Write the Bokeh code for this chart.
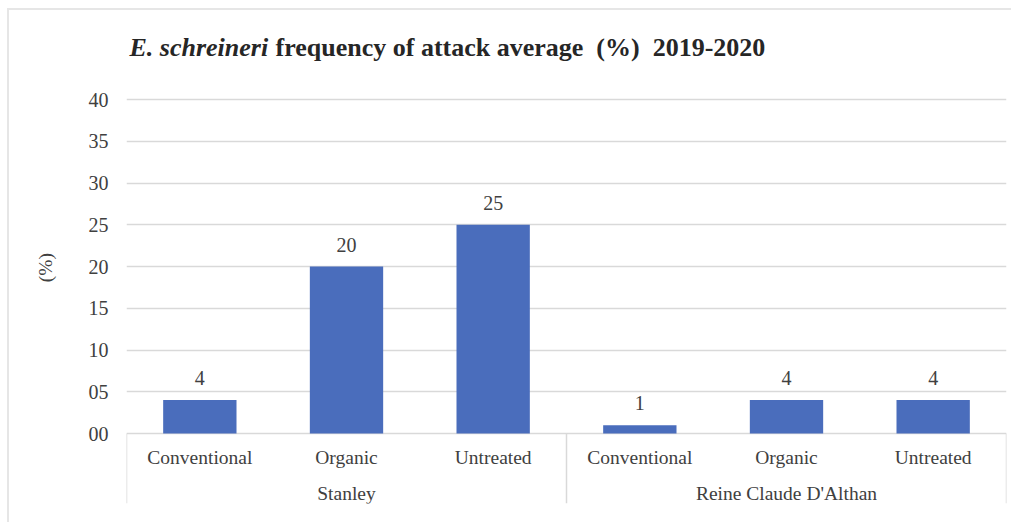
from bokeh.plotting import figure
from bokeh.models import FactorRange, FixedTicker, ColumnDataSource
from bokeh.core.properties import value
from bokeh.embed import file_html
from bokeh.resources import INLINE

# ---- data ----
varieties = ["Stanley", "Reine Claude D'Althan"]
treatments = ["Conventional", "Organic", "Untreated"]
stanley_values = [4, 20, 25]
reine_values = [1, 4, 4]
y_ticks = [0, 5, 10, 15, 20, 25, 30, 35, 40]
y_tick_labels = ["00", "05", "10", "15", "20", "25", "30", "35", "40"]
title_italic = "E. schreineri"
title_rest = "frequency of attack average \u00a0(%) \u00a02019-2020"

factors = [(v, t) for v in varieties for t in treatments]
values = stanley_values + reine_values

SERIF = "Liberation Serif"
TXT = "#404040"
GRID = "#d9d9d9"

OX, OY = 9, 10  # offset of the chart box inside the window (border)
px_per_unit = 334 / 40.0
slot_px = 880 / 6.0
y_bottom = -70 / px_per_unit
y_top = 40 + 68 / px_per_unit

p = figure(
    width=1013 - OX, height=524 - OY,
    x_range=FactorRange(*factors, factor_padding=0, group_padding=0, range_padding=0),
    y_range=(y_bottom, y_top),
    output_backend="svg", toolbar_location=None,
    min_border_left=126 - OX, min_border_right=7, min_border_top=31 - OY, min_border_bottom=21,
)
p.styles = {"margin-left": "7px", "margin-top": "8px",
            "border-left": "2px solid #e6e6e6", "border-top": "2px solid #e6e6e6"}
p.outline_line_color = None
p.background_fill_color = "white"
p.border_fill_color = "white"

src = ColumnDataSource(dict(x=factors, top=values, label=[str(v) for v in values]))
p.vbar(x="x", top="top", bottom=0, width=0.5, source=src,
       fill_color="#4a6dbc", line_color=None)
p.text(x="x", y="top", text="label", source=src, text_align="center",
       text_baseline="bottom", y_offset=-15, text_font=value(SERIF),
       text_font_size="20px", text_color=TXT)

# category labels (inner level)
p.text(x=factors, y=[-24 / px_per_unit] * len(factors), text=[f[1] for f in factors],
       text_align="center", text_baseline="middle", text_font=value(SERIF),
       text_font_size="19.5px", text_color=TXT)
# group labels (outer level)
p.text(x=varieties, y=[-60 / px_per_unit] * len(varieties), text=varieties,
       text_align="center", text_baseline="middle", text_font=value(SERIF),
       text_font_size="19.5px", text_color=TXT)

# separators between groups below the axis
sep_x = [(varieties[0], treatments[0], -0.5), (varieties[0], treatments[-1], 0.5),
         (varieties[-1], treatments[-1], 0.5)]
p.segment(x0=sep_x, y0=[0] * 3, x1=sep_x, y1=[y_bottom] * 3, line_color=GRID, line_width=1.5)

# chart title (italic part + bold part)
title_y = 40 + (99 - 47) / px_per_unit
p.text(x=[(varieties[0], treatments[0], -0.5 + 3 / slot_px)], y=[title_y], text=[title_italic],
       text_align="left", text_baseline="middle", text_font=value(SERIF),
       text_font_size="26px", text_font_style="bold italic", text_color="#262626")
p.text(x=[(varieties[0], treatments[0], -0.5 + 149 / slot_px)], y=[title_y], text=[title_rest],
       text_align="left", text_baseline="middle", text_font=value(SERIF),
       text_font_size="26px", text_font_style="bold", text_color="#262626")

# axes
p.xaxis.visible = False
p.xgrid.visible = False
p.yaxis.ticker = FixedTicker(ticks=y_ticks)
p.yaxis.major_label_overrides = {t: l for t, l in zip(y_ticks, y_tick_labels)}
p.yaxis.axis_line_color = None
p.yaxis.major_tick_line_color = None
p.yaxis.minor_tick_line_color = None
p.yaxis.major_tick_out = 0
p.yaxis.major_label_standoff = 18
p.yaxis.major_label_text_font = SERIF
p.yaxis.major_label_text_font_size = "20px"
p.yaxis.major_label_text_color = TXT
p.yaxis.axis_label = "(%)"
p.yaxis.axis_label_standoff = 30
p.yaxis.axis_label_text_font = SERIF
p.yaxis.axis_label_text_font_size = "19.5px"
p.yaxis.axis_label_text_font_style = "normal"
p.yaxis.axis_label_text_color = TXT
p.ygrid.ticker = FixedTicker(ticks=y_ticks)
p.ygrid.grid_line_color = GRID
p.ygrid.grid_line_width = 1.5

open("out.html", "w").write(file_html(p, INLINE))
